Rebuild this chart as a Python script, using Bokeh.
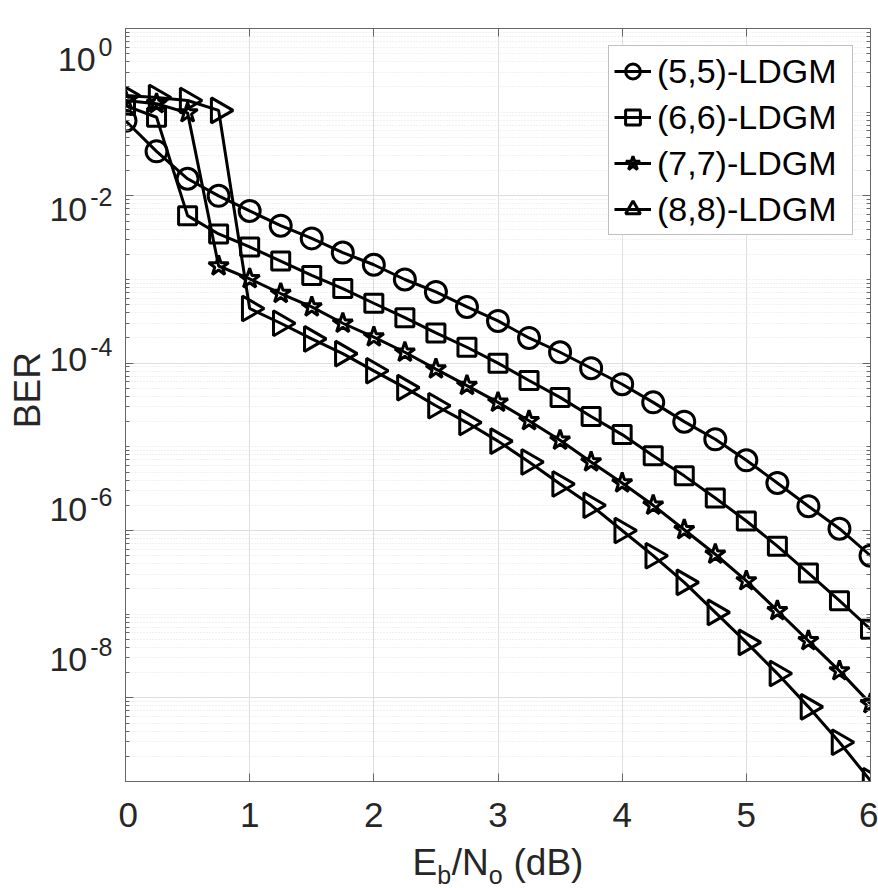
import math
from bokeh.plotting import figure
from bokeh.layouts import row, column
from bokeh.models import (FixedTicker, LinearAxis, LogAxis, Label, Range1d,
                          CustomJSTickFormatter)
from bokeh.embed import file_html
from bokeh.resources import INLINE

# ---------------- data ----------------
ebno = [0.0, 0.25, 0.5, 0.75, 1.0, 1.25, 1.5, 1.75, 2.0, 2.25, 2.5, 2.75, 3.0,
        3.25, 3.5, 3.75, 4.0, 4.25, 4.5, 4.75, 5.0, 5.25, 5.5, 5.75, 6.0]

ber_55 = [7.9e-2, 3.4e-2, 1.6e-2, 1.0e-2, 6.6e-3, 4.4e-3, 3.1e-3, 2.1e-3, 1.5e-3,
          1.0e-3, 7.1e-4, 4.7e-4, 3.2e-4, 2.0e-4, 1.35e-4, 8.7e-5, 5.6e-5, 3.4e-5,
          2.0e-5, 1.23e-5, 6.9e-6, 3.7e-6, 1.95e-6, 1.05e-6, 5.0e-7]
ber_66 = [1.2e-1, 8.7e-2, 5.8e-3, 3.5e-3, 2.45e-3, 1.66e-3, 1.12e-3, 7.8e-4, 5.2e-4,
          3.5e-4, 2.3e-4, 1.55e-4, 1.0e-4, 6.2e-5, 3.9e-5, 2.3e-5, 1.4e-5, 7.8e-6,
          4.5e-6, 2.45e-6, 1.3e-6, 6.5e-7, 3.1e-7, 1.45e-7, 6.6e-8]
ber_77 = [1.38e-1, 1.26e-1, 9.8e-2, 1.45e-3, 1.02e-3, 6.8e-4, 4.7e-4, 3.0e-4, 2.05e-4,
          1.35e-4, 8.5e-5, 5.4e-5, 3.4e-5, 2.05e-5, 1.2e-5, 6.6e-6, 3.7e-6, 2.0e-6,
          1.02e-6, 5.2e-7, 2.5e-7, 1.1e-7, 4.8e-8, 2.1e-8, 8.5e-9]
ber_88 = [1.58e-1, 1.5e-1, 1.38e-1, 1.05e-1, 4.5e-4, 3.0e-4, 1.95e-4, 1.3e-4, 8.1e-5,
          5.1e-5, 3.1e-5, 1.95e-5, 1.17e-5, 6.6e-6, 3.6e-6, 2.0e-6, 1.0e-6, 5.0e-7,
          2.4e-7, 1.05e-7, 4.6e-8, 1.95e-8, 7.8e-9, 2.95e-9, 1.02e-9]

series_labels = ["(5,5)-LDGM", "(6,6)-LDGM", "(7,7)-LDGM", "(8,8)-LDGM"]

x_ticks = [0, 1, 2, 3, 4, 5, 6]
y_major_ticks = [1e0, 1e-2, 1e-4, 1e-6, 1e-8]
y_tick_exponents = ["0", "-2", "-4", "-6", "-8"]
y_minor_ticks = [k * 10.0 ** n for n in range(-9, 0) for k in range(1, 10)
                 if not (k == 1 and n % 2 == 0)] + [1e-9]

X_LO, X_HI = 0.0, 6.0
Y_LO, Y_HI = 1e-9, 1e0

# ---------------- layout constants ----------------
FONT = "Liberation Sans"
TICK_COLOR = "#262626"
AXIS_COLOR = "#666666"

W, H = 878, 888
LEFT_W = 118          # width of the tick-label strip
MAIN_H = 840          # height of the main figure
BORDER_L, BORDER_R, BORDER_T, BORDER_B = 7, 8, 28, MAIN_H - 781
FRAME_W = W - LEFT_W - BORDER_L - BORDER_R
FRAME_H = MAIN_H - BORDER_T - BORDER_B

# ---------------- main figure ----------------
p = figure(width=W - LEFT_W, height=MAIN_H, x_range=Range1d(X_LO, X_HI),
           y_range=Range1d(Y_LO, Y_HI), y_axis_type="log",
           output_backend="svg", toolbar_location=None,
           min_border_left=BORDER_L, min_border_right=BORDER_R,
           min_border_top=BORDER_T, min_border_bottom=BORDER_B)
p.background_fill_color = "white"
p.border_fill_color = "white"
p.outline_line_color = None

yticker = FixedTicker(ticks=y_major_ticks, minor_ticks=y_minor_ticks)
xticker = FixedTicker(ticks=x_ticks)
empty = CustomJSTickFormatter(code="return ''")

xa = p.below[0]
xa.ticker = xticker
xa.major_label_text_font = FONT
xa.major_label_text_font_size = "35px"
xa.major_label_text_color = TICK_COLOR
xa.major_label_standoff = 21

ya = p.left[0]
ya.ticker = yticker
ya.formatter = empty
ya.major_label_standoff = 0
ya.major_label_text_font_size = "1px"

top = LinearAxis(ticker=xticker, formatter=empty)
right = LogAxis(ticker=yticker, formatter=empty)
for ax in (top, right):
    ax.major_label_standoff = 0
    ax.major_label_text_font_size = "1px"
p.add_layout(top, "above")
p.add_layout(right, "right")

for ax in (xa, ya, top, right):
    ax.axis_line_color = AXIS_COLOR
    ax.axis_line_width = 1
    ax.major_tick_line_color = AXIS_COLOR
    ax.major_tick_in = 8
    ax.major_tick_out = 0
    ax.minor_tick_line_color = AXIS_COLOR
    ax.minor_tick_in = 4
    ax.minor_tick_out = 0
for ax in (xa, top):
    ax.minor_tick_line_color = None

p.xgrid.ticker = xticker
p.ygrid.ticker = yticker
p.xgrid.grid_line_color = "#dedede"
p.ygrid.grid_line_color = "#dedede"
p.ygrid.minor_grid_line_color = "#e2e2e2"
p.ygrid.minor_grid_line_dash = "1 2"

markers = ["circle", "square", "star", "triangle"]
sizes = [21, 18, 21, 25]
angles = [0, 0, 0, -math.pi / 2]
for ys, lab, mk, sz, ang in zip([ber_55, ber_66, ber_77, ber_88], series_labels,
                                markers, sizes, angles):
    p.line(ebno, ys, line_color="black", line_width=3, legend_label=lab)
    p.scatter(ebno, ys, marker=mk, size=sz, angle=ang, fill_color=None,
              line_color="black", line_width=3, legend_label=lab)

lg = p.legend[0]
lg.location = "top_right"
lg.margin = 17
lg.padding = 5
lg.spacing = 6
lg.glyph_width = 37
lg.glyph_height = 40
lg.label_height = 40
lg.label_width = 190
lg.label_standoff = 6
lg.label_text_font = FONT
lg.label_text_font_size = "34px"
lg.label_text_color = "black"
lg.border_line_color = "#808080"
lg.border_line_width = 1
lg.background_fill_color = "white"
lg.background_fill_alpha = 1.0

# ---------------- left strip: y tick labels and BER ----------------
dec_per_px = (math.log10(Y_HI) - math.log10(Y_LO)) / FRAME_H
left_y_lo = 10 ** (math.log10(Y_LO) - BORDER_B * dec_per_px)
left_y_hi = 10 ** (math.log10(Y_HI) + BORDER_T * dec_per_px)
# x data unit = 1 px, 0 = left edge of the main frame
left = figure(width=LEFT_W, height=MAIN_H,
              x_range=Range1d(-(LEFT_W + BORDER_L), -BORDER_L),
              y_range=Range1d(left_y_lo, left_y_hi), y_axis_type="log",
              x_axis_location=None, y_axis_location=None,
              output_backend="svg", toolbar_location=None,
              min_border=0)
left.outline_line_color = None
left.grid.visible = False
left.background_fill_color = "white"
left.border_fill_color = "white"

SUP_PX = 25
SUP_RIGHT = -13
CHAR_W = {"-": 0.333}
for t, e in zip(y_major_ticks, y_tick_exponents):
    exp_w = SUP_PX * sum(CHAR_W.get(c, 0.556) for c in e)
    sup_left = SUP_RIGHT - exp_w
    left.add_layout(Label(x=0, y=t, text="10", x_offset=sup_left - 3, y_offset=-6,
                          text_align="right", text_baseline="middle",
                          text_font=FONT, text_font_size="34px",
                          text_color=TICK_COLOR))
    left.add_layout(Label(x=0, y=t, text=e, x_offset=sup_left, y_offset=7,
                          text_align="left", text_baseline="middle",
                          text_font=FONT, text_font_size=f"{SUP_PX}px",
                          text_color=TICK_COLOR))

left.add_layout(Label(x=0, y=math.sqrt(Y_LO * Y_HI), text="BER",
                      x_offset=-98, y_offset=1, angle=math.pi / 2,
                      text_align="center", text_baseline="middle",
                      text_font=FONT, text_font_size="37px",
                      text_color=TICK_COLOR))

# ---------------- bottom strip: E_b/N_o (dB) ----------------
BOT_H = H - MAIN_H
px_per_unit = FRAME_W / (X_HI - X_LO)
bottom = figure(width=W, height=BOT_H,
                x_range=Range1d(X_LO - (LEFT_W + BORDER_L) / px_per_unit,
                                X_HI + BORDER_R / px_per_unit),
                y_range=Range1d(0, BOT_H),
                x_axis_location=None, y_axis_location=None,
                output_backend="svg", toolbar_location=None, min_border=0)
bottom.outline_line_color = None
bottom.grid.visible = False
bottom.background_fill_color = "white"
bottom.border_fill_color = "white"

x_mid = (X_LO + X_HI) / 2
x_label_parts = [("E", "37px", -85.5, 0),
                 ("b", "25px", -60.8, -12),
                 ("/N", "37px", -46.3, 0),
                 ("o", "25px", -9.3, -12),
                 ("(dB)", "37px", 15.5, 0)]
for txt, fs, xo, yo in x_label_parts:
    bottom.add_layout(Label(x=x_mid, y=BOT_H - 22, text=txt, x_offset=xo, y_offset=yo,
                            text_align="left", text_baseline="alphabetic",
                            text_font=FONT, text_font_size=fs,
                            text_color=TICK_COLOR))

layout = column(row(left, p, spacing=0), bottom, spacing=0)
open("out.html", "w").write(file_html(layout, INLINE))
